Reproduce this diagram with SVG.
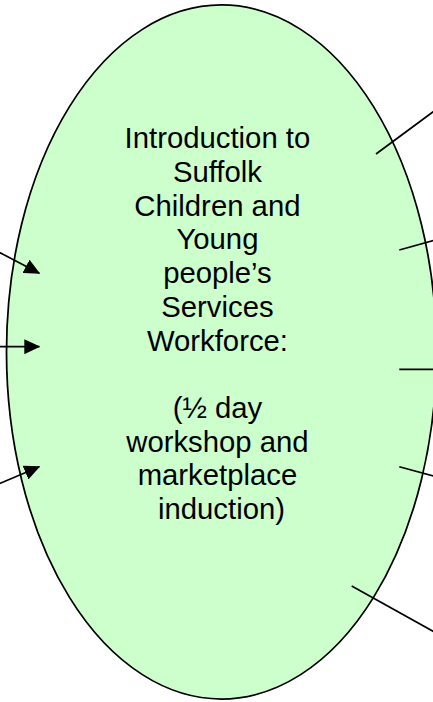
<svg xmlns="http://www.w3.org/2000/svg" width="433" height="702" viewBox="0 0 433 702">
  <style>
    .node { fill: #CCFFCC; stroke: #000000; stroke-width: 1.75; }
    .label { font-family: "Liberation Sans", Arial, sans-serif; font-size: 29.3px; fill: #000000; text-anchor: middle; }
    .conn { stroke: #000000; stroke-width: 1.7; fill: none; }
    .arrow { marker-end: url(#ah); }
  </style>
  <defs>
    <marker id="ah" markerUnits="userSpaceOnUse" markerWidth="16" markerHeight="15" viewBox="0 0 16 15" refX="15" refY="7.5" orient="auto">
      <path d="M0,0 L16,7.5 L0,15 z" fill="#000000"/>
    </marker>
  </defs>
  <rect width="433" height="702" fill="#FFFFFF"/>
  <g id="node-induction">
    <ellipse class="node" cx="221.5" cy="352" rx="215" ry="347"/>
    <text class="label">
      <tspan x="221.5" y="148.3">Introduction to</tspan>
      <tspan x="221.5" y="182">Suffolk</tspan>
      <tspan x="221.5" y="215.7">Children and</tspan>
      <tspan x="221.5" y="249.4">Young</tspan>
      <tspan x="221.5" y="283.1">people’s</tspan>
      <tspan x="221.5" y="316.8">Services</tspan>
      <tspan x="221.5" y="350.5">Workforce:</tspan>
      <tspan x="221.5" y="417.9">(½ day</tspan>
      <tspan x="221.5" y="451.6">workshop and</tspan>
      <tspan x="221.5" y="485.3">marketplace</tspan>
      <tspan x="221.5" y="519">induction)</tspan>
    </text>
  </g>
  <g id="connectors">
    <line class="conn arrow" x1="-4" y1="250.6" x2="39.3" y2="273.3"/>
    <line class="conn arrow" x1="-4" y1="346.7" x2="39.3" y2="346.7"/>
    <line class="conn arrow" x1="-4" y1="485" x2="39.3" y2="466.7"/>
    <line class="conn" x1="376" y1="154" x2="441" y2="106"/>
    <line class="conn" x1="399.3" y1="250" x2="441" y2="238.5"/>
    <line class="conn" x1="399.3" y1="369.3" x2="441" y2="369.3"/>
    <line class="conn" x1="399.3" y1="466.7" x2="441" y2="478"/>
    <line class="conn" x1="351.7" y1="586" x2="441" y2="635.6"/>
  </g>
</svg>
